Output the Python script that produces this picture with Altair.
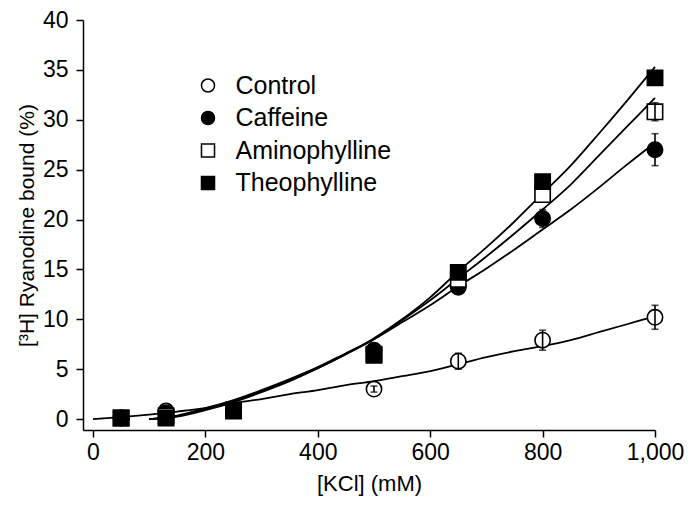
import altair as alt
import pandas as pd

series = ["Control", "Caffeine", "Aminophylline", "Theophylline"]
kcl = [50, 130, 250, 500, 650, 800, 1000]
control = [0.1, 0.8, 0.9, 3.0, 5.8, 7.9, 10.2]
caffeine = [0.1, 0.6, 1.0, 6.9, 13.2, 20.1, 27.0]
amino = [0.1, 0.3, 0.9, 6.5, 14.0, 22.5, 30.8]
theo = [0.1, 0.1, 0.8, 6.4, 14.7, 23.8, 34.2]
err_control = [0, 0, 0, 0.3, 0.8, 1.0, 1.2]
err_caff = [0, 0, 0, 0, 0, 0.9, 1.6]
err_amino = [0, 0, 0, 0, 0, 0, 0.9]
err_theo = [0, 0, 0, 0, 0, 0, 0]

# fitted curves
fit_x_control = [0, 50, 100, 150, 200, 250, 300, 350, 400, 450, 500, 550, 600, 650, 700, 750, 800, 850, 900, 950, 1000]
fit_control = [0, 0.2, 0.45, 0.75, 1.1, 1.6, 2.0, 2.5, 2.9, 3.4, 3.8, 4.3, 4.8, 5.5, 6.2, 6.8, 7.3, 7.9, 8.7, 9.5, 10.3]
fit_x_drug = [100, 150, 200, 250, 300, 350, 400, 450, 500, 550, 600, 650, 700, 750, 800, 850, 900, 950, 1000]
fit_caffeine = [0, 0.35, 1.1, 1.9, 2.9, 4.0, 5.2, 6.6, 8.0, 9.7, 11.4, 13.3, 15.1, 17.0, 19.0, 21.0, 23.2, 25.5, 27.7]
fit_amino = [0, 0.3, 1.0, 1.8, 2.8, 3.9, 5.1, 6.5, 8.0, 9.9, 11.9, 14.1, 16.3, 18.6, 21.0, 23.5, 26.4, 29.3, 32.2]
fit_theo = [0, 0.25, 0.9, 1.7, 2.7, 3.8, 5.1, 6.5, 8.1, 10.0, 12.2, 14.8, 17.2, 19.8, 22.6, 25.4, 28.6, 31.9, 35.3]

vals = [control, caffeine, amino, theo]
errs = [err_control, err_caff, err_amino, err_theo]
rows = []
for s, v, e in zip(series, vals, errs):
    for x, y, d in zip(kcl, v, e):
        rows.append({"series": s, "kcl": x, "val": y, "lo": y - d, "hi": y + d, "err": d})
pts = pd.DataFrame(rows)
errdf = pts[pts["err"] > 0]

fit_rows = []
for x, y in zip(fit_x_control, fit_control):
    fit_rows.append({"series": "Control", "kcl": x, "val": y})
for s, f in zip(series[1:], [fit_caffeine, fit_amino, fit_theo]):
    for x, y in zip(fit_x_drug, f):
        fit_rows.append({"series": s, "kcl": x, "val": y})
fits = pd.DataFrame(fit_rows)

FONT = "Liberation Sans"
xscale = alt.Scale(domain=[-17.8, 1000], nice=False, zero=False)
yscale = alt.Scale(domain=[-1.1, 40], nice=False, zero=False)
xaxis = alt.Axis(title="[KCl] (mM)", values=[0, 200, 400, 600, 800, 1000], format=",d",
                 labelPadding=4, titlePadding=9, titleFontSize=22)
yaxis = alt.Axis(title="[³H] Ryanodine bound (%)", values=[0, 5, 10, 15, 20, 25, 30, 35, 40],
                 labelPadding=8, titlePadding=5, titleFontSize=21)

lines = alt.Chart(fits).mark_line(color="black", strokeWidth=1.8, interpolate="monotone").encode(
    x=alt.X("kcl:Q", scale=xscale, axis=xaxis),
    y=alt.Y("val:Q", scale=yscale, axis=yaxis),
    detail="series:N",
)

leg = alt.Legend(title=None, orient="none", legendX=112.5, legendY=53)
points = alt.Chart(pts).mark_point(filled=True, strokeWidth=1.6, size=235, opacity=1).encode(
    x=alt.X("kcl:Q", scale=xscale, axis=xaxis),
    y=alt.Y("val:Q", scale=yscale, axis=yaxis),
    shape=alt.Shape("series:N", scale=alt.Scale(domain=series, range=["circle", "circle", "square", "square"]), legend=leg),
    fill=alt.Fill("series:N", scale=alt.Scale(domain=series, range=["white", "black", "white", "black"]), legend=leg),
    stroke=alt.Stroke("series:N", scale=alt.Scale(domain=series, range=["black", "black", "black", "black"]), legend=leg),
)

ebars = alt.Chart(errdf).mark_errorbar(ticks=alt.MarkConfig(size=7, color="black", strokeWidth=1.6),
                                       color="black", thickness=1.6).encode(
    x=alt.X("kcl:Q", scale=xscale, axis=xaxis),
    y=alt.Y("lo:Q", scale=yscale, axis=yaxis),
    y2="hi:Q",
)

chart = alt.layer(lines, points, ebars).properties(
    width=572, height=410,
    autosize=alt.AutoSizeParams(type="none"),
    padding={"left": 75, "top": 12, "right": 29, "bottom": 67},
).configure_view(stroke=None).configure_axis(
    grid=False, domainColor="black", tickColor="black", domainWidth=1.5, tickWidth=1.5,
    tickSize=7, labelFontSize=23, labelColor="black", titleColor="black",
    labelFont=FONT, titleFont=FONT, titleFontWeight="normal", labelFlush=False,
).configure_legend(
    labelFontSize=25, labelFont=FONT, labelColor="black", symbolSize=170,
    symbolStrokeWidth=1.5, rowPadding=6.5, labelOffset=15, padding=0,
)

chart.save("out.html", embed_options={"renderer": "svg", "actions": False})
